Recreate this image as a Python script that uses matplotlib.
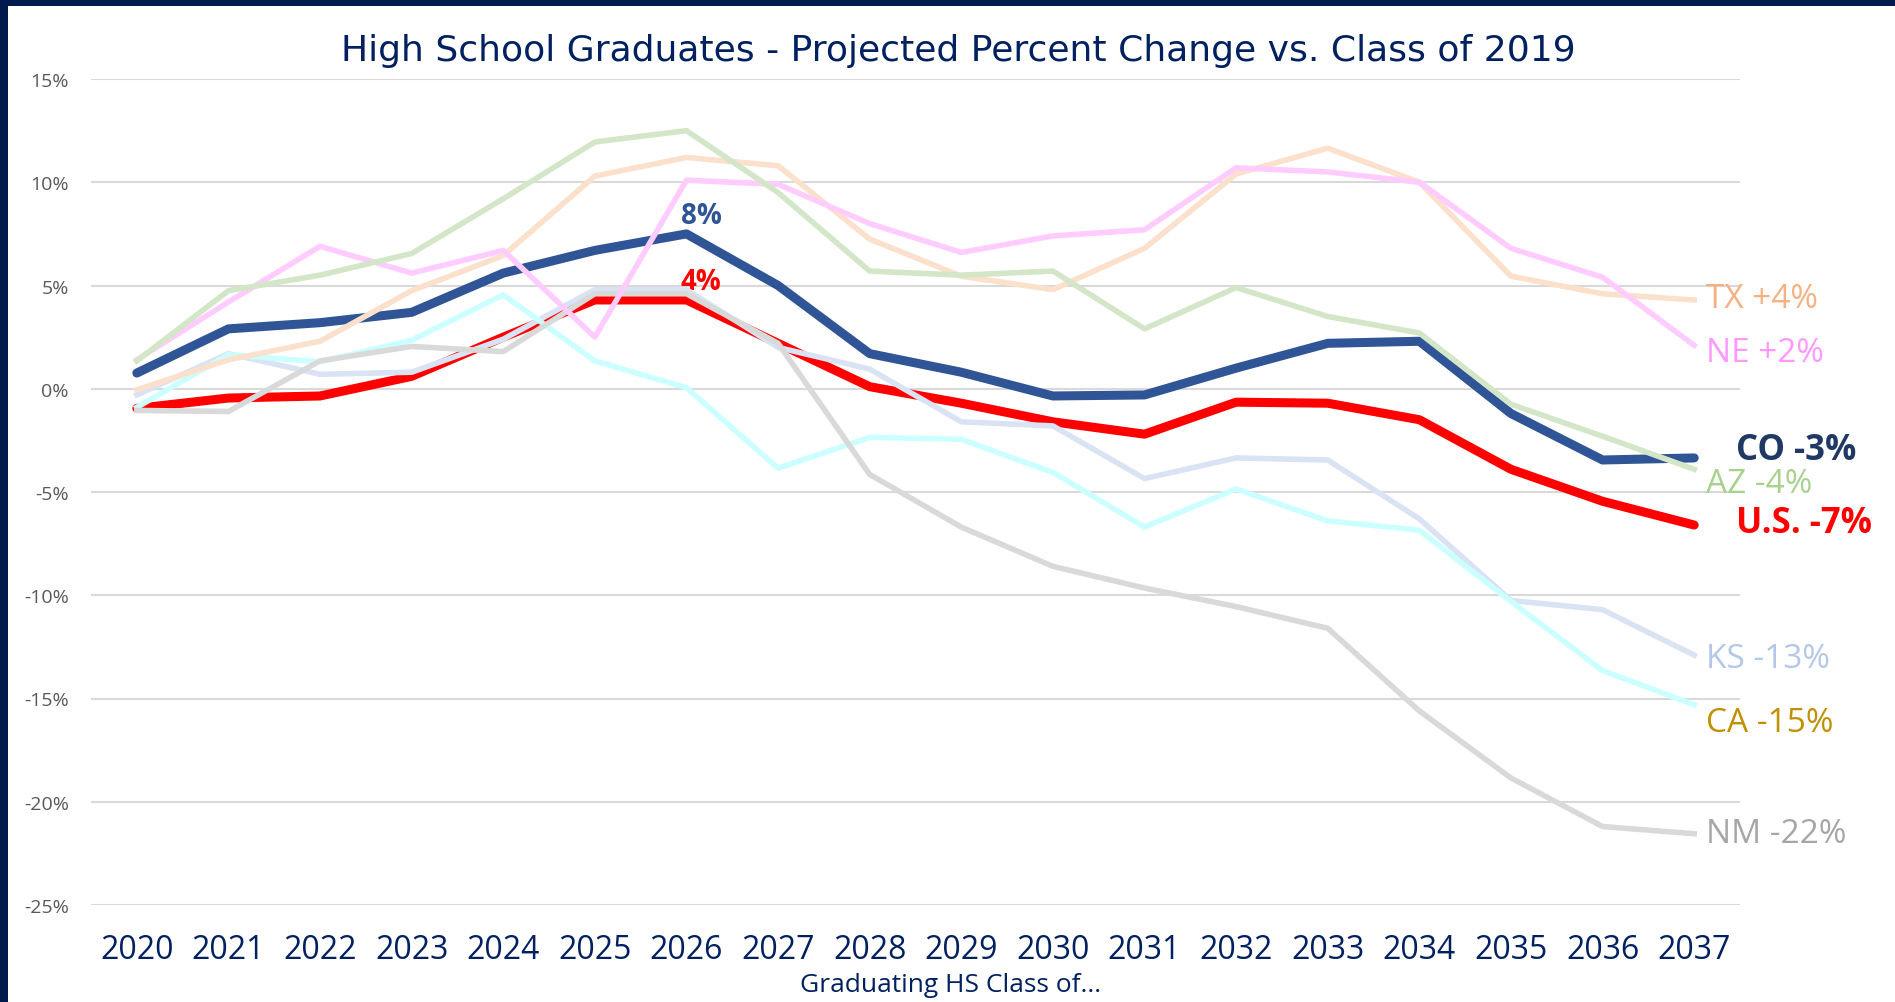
import matplotlib
matplotlib.use("Agg")
import matplotlib.pyplot as plt
from matplotlib.patches import Rectangle
from matplotlib.ticker import FuncFormatter

years = [str(y) for y in range(2020, 2038)]

# projected percent change vs class of 2019
co = [0.76, 2.9, 3.2, 3.7, 5.6, 6.7, 7.5, 5.0, 1.7, 0.8, -0.35, -0.3, 1.0, 2.2, 2.3, -1.2, -3.45, -3.35]
us = [-0.95, -0.45, -0.35, 0.6, 2.5, 4.3, 4.3, 2.2, 0.1, -0.7, -1.6, -2.2, -0.65, -0.7, -1.5, -3.9, -5.45, -6.6]
az = [1.35, 4.75, 5.5, 6.55, 9.2, 11.95, 12.5, 9.5, 5.7, 5.5, 5.7, 2.9, 4.9, 3.5, 2.7, -0.75, -2.3, -3.9]
tx = [-0.05, 1.4, 2.3, 4.75, 6.45, 10.3, 11.2, 10.8, 7.25, 5.45, 4.8, 6.8, 10.4, 11.65, 10.0, 5.45, 4.6, 4.3]
ne = [1.4, 4.2, 6.9, 5.6, 6.7, 2.5, 10.1, 9.9, 8.0, 6.6, 7.4, 7.7, 10.7, 10.5, 10.0, 6.8, 5.4, 2.1]
ks = [-0.3, 1.7, 0.7, 0.8, 2.4, 4.8, 4.8, 2.0, 0.95, -1.6, -1.8, -4.35, -3.35, -3.45, -6.3, -10.25, -10.7, -12.9]
ca = [-0.9, 1.65, 1.3, 2.35, 4.55, 1.35, 0.05, -3.85, -2.35, -2.45, -4.05, -6.7, -4.85, -6.4, -6.85, -10.3, -13.65, -15.3]
nm = [-1.05, -1.1, 1.35, 2.05, 1.8, 4.6, 4.6, 2.2, -4.15, -6.7, -8.6, -9.65, -10.55, -11.6, -15.6, -18.85, -21.2, -21.55]

end_labels = ["TX +4%", "NE +2%", "CO -3%", "AZ -4%", "U.S. -7%", "KS -13%", "CA -15%", "NM -22%"]

NAVY = "#002060"
body = ["Open Sans", "DejaVu Sans"]

fig = plt.figure(figsize=(18.95, 10.03), dpi=100)
ax = fig.add_axes([91 / 1895, 1 - 906 / 1003, (1740 - 91) / 1895, (906 - 80) / 1003])

x = list(range(len(years)))

# highlighted lines underneath, state lines drawn over them
ax.plot(x, us, color="#FF0000", lw=6.5, solid_capstyle="round", zorder=3)
ax.plot(x, co, color="#2F5597", lw=6.5, solid_capstyle="round", zorder=3)
ax.plot(x, ks, color="#DAE3F3", lw=4, zorder=4)
ax.plot(x, ca, color="#CCFFFF", lw=4, zorder=4)
ax.plot(x, nm, color="#D9D9D9", lw=4, zorder=4)
ax.plot(x, tx, color="#FBE0CC", lw=4, zorder=4)
ax.plot(x, ne, color="#FFCCFF", lw=4, zorder=4)
ax.plot(x, az, color="#D3E6C8", lw=4, zorder=4)

# peak labels for 2026
ax.text(6.16, 8.4, "8%", color="#2F5597", fontsize=20, fontweight="bold",
        ha="center", va="center", family=body)
ax.text(6.16, 5.2, "4%", color="#FF0000", fontsize=20, fontweight="bold",
        ha="center", va="center", family=body)

# end labels
lab_x = [17.13, 17.13, 17.46, 17.13, 17.46, 17.13, 17.13, 17.13]
lab_y = [4.39, 1.76, -2.99, -4.57, -6.5, -13.06, -16.16, -21.55]
lab_c = ["#F4B183", "#FF99FF", "#1F3864", "#A9D18E", "#FF0000", "#B4C7E7", "#BF9000", "#A6A6A6"]
lab_w = ["normal", "normal", "bold", "normal", "bold", "normal", "normal", "normal"]
lab_s = [24, 24, 25, 24, 25, 24, 24, 24]
for lx, ly, t, c, w, s in zip(lab_x, lab_y, end_labels, lab_c, lab_w, lab_s):
    ax.text(lx, ly, t, color=c, fontsize=s, fontweight=w, ha="left", va="center",
            family=body, clip_on=False)

ax.set_xlim(-0.5, 17.5)
ax.set_ylim(-25, 15)
ax.set_yticks(range(-25, 16, 5))
ax.yaxis.set_major_formatter(FuncFormatter(lambda v, p: f"{int(v)}%"))
ax.set_xticks(x)
ax.set_xticklabels(years)
ax.grid(axis="y", color="#D9D9D9", lw=1.5, zorder=0)
ax.set_axisbelow(True)
for s in ax.spines.values():
    s.set_visible(False)
ax.tick_params(axis="both", length=0)
ax.tick_params(axis="y", pad=16, labelsize=14, labelcolor="#595959")
ax.tick_params(axis="x", pad=20, labelsize=23, labelcolor=NAVY)
for lbl in ax.get_yticklabels() + ax.get_xticklabels():
    lbl.set_family(body)

fig.text(958 / 1895, 1 - 51 / 1003, "High School Graduates - Projected Percent Change vs. Class of 2019",
         ha="center", va="center", fontsize=26, color=NAVY, family=["DejaVu Sans"])
fig.text(951 / 1895, 1 - 986 / 1003, "Graduating HS Class of...", ha="center", va="center",
         fontsize=19, color=NAVY, family=body)

# dark frame on top and left
fig.add_artist(Rectangle((0, 1 - 7 / 1003), 1, 7 / 1003, transform=fig.transFigure,
                         color="#001A4E", lw=0))
fig.add_artist(Rectangle((0, 0), 8 / 1895, 1, transform=fig.transFigure,
                         color="#001A4E", lw=0))

fig.savefig("out.png", dpi=100)
